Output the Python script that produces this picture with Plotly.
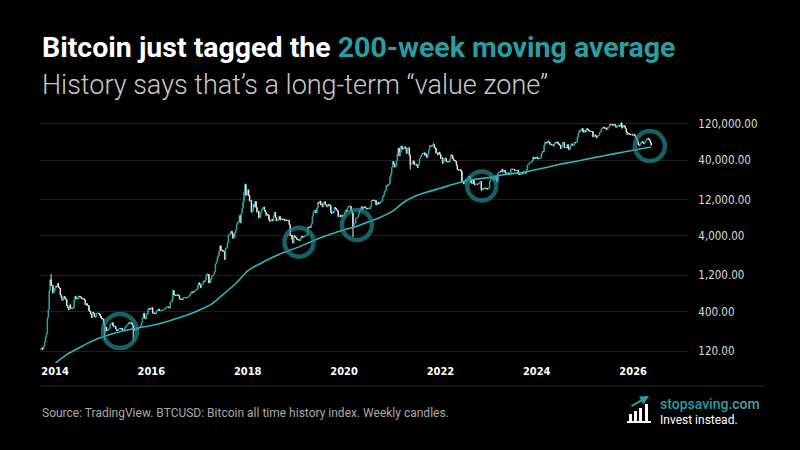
import pandas as pd
import plotly.graph_objects as go

# Weekly closes (USD), one list per calendar year
close_2013 = [127, 126, 127, 133, 127, 140, 157, 183, 206, 330, 430, 750, 1050, 900, 880, 700, 740, 810]
close_2014 = [870, 850, 940, 830, 810, 660, 620, 560, 620, 630, 590, 580, 480,
              450, 420, 490, 440, 440, 440, 450, 570, 630, 590, 600, 590, 640,
              630, 620, 590, 590, 590, 570, 490, 510, 480, 480, 410, 400, 370,
              330, 390, 380, 340, 340, 380, 380, 380, 370, 350, 330, 320, 320]
close_2015 = [270, 210, 250, 225, 225, 235, 240, 275, 275, 285, 260, 250, 255,
              235, 225, 225, 235, 240, 235, 240, 230, 225, 235, 245, 255, 265,
              270, 285, 280, 285, 280, 265, 230, 225, 230, 240, 230, 235, 245,
              245, 265, 285, 325, 380, 330, 320, 360, 380, 430, 440, 430, 430]
close_2016 = [450, 380, 385, 375, 375, 405, 420, 430, 410, 410, 415, 415, 420,
              420, 430, 450, 460, 460, 455, 445, 530, 540, 580, 760, 670, 660,
              650, 665, 655, 655, 590, 580, 580, 575, 610, 610, 610, 605, 610,
              615, 640, 655, 700, 730, 705, 740, 735, 755, 770, 790, 890, 960]
close_2017 = [900, 820, 920, 920, 1010, 1000, 1050, 1190, 1250, 1230, 960, 960, 1080,
              1190, 1200, 1250, 1350, 1700, 1800, 2050, 2200, 2500, 2950, 2550, 2600, 2500,
              2500, 1950, 2750, 2750, 3250, 4100, 4150, 4350, 4600, 4300, 3700, 3800, 4400,
              4800, 5700, 6000, 6150, 7400, 5950, 8000, 9300, 11300, 15000, 19100, 13900, 13800]
close_2018 = [16200, 13600, 11500, 11700, 8200, 8500, 10400, 9600, 11400, 9500, 8200, 8500, 6900,
              7000, 8100, 8900, 9300, 9600, 8700, 8200, 7400, 7700, 7500, 6500, 6200, 6400,
              6600, 6300, 7400, 8200, 7000, 6300, 6400, 6700, 7200, 6500, 6500, 6700, 6600,
              6600, 6300, 6500, 6400, 6400, 6350, 5600, 4000, 4100, 3600, 3200, 4000, 3900, 3800]
close_2019 = [3600, 3550, 3550, 3450, 3650, 3950, 3850, 3850, 3950, 4000, 4000, 4100,
              5200, 5100, 5300, 5200, 5800, 7200, 8100, 8700, 8700, 8000, 9300, 11000, 10800,
              11500, 10200, 10600, 9600, 11000, 11300, 10300, 10100, 9600,
              10400, 10300, 10000, 8200, 7900, 8300, 8200, 9500, 9200,
              8800, 8500, 7100, 7400, 7500, 7100, 7500, 7300, 7400]
close_2020 = [8200, 8700, 8400, 9400, 9900, 9900, 9700, 8600, 8000, 5400, 5800, 5900, 6800,
              6900, 7100, 7700, 8800, 8700, 9700, 8900, 9500, 9700, 9400, 9300, 9100, 9100,
              9250, 9200, 9700, 11800, 11700, 11900, 11500, 11700, 10300, 10300, 11100, 10700, 10700,
              11400, 11500, 13000, 13800, 15500, 16000, 18400, 18200, 19200, 19200, 24000, 26500, 32000]
close_2021 = [38200, 35800, 32300, 33100, 38900, 48700, 57500, 45200, 51000, 61200, 57500, 55800, 58200,
              60000, 56200, 49000, 57800, 58200, 46400, 34700, 35700, 35800, 39100, 35500, 34700, 35300,
              34200, 31800, 35400, 41500, 44600, 47000, 49000, 48800, 50000, 46000, 48300, 43200, 48200,
              54700, 61500, 61300, 61300, 63300, 64400, 58600, 57200, 49400, 50100, 46700, 50800, 47700]
close_2022 = [41800, 43100, 36300, 38500, 42400, 42200, 38300, 37700, 38400, 37800, 41300, 46800, 46400,
              42200, 39700, 39400, 38500, 34300, 30100, 29400, 29500, 29900, 28400, 20500, 21000, 19300,
              20800, 22500, 22600, 23300, 24400, 24100, 21400, 20000, 19800, 21800, 19400, 18800, 19300,
              19400, 19200, 19600, 20600, 20900, 16300, 16700, 16500, 17100, 17100, 16800, 16800, 16550]
close_2023 = [17100, 20900, 22700, 23000, 23300, 21800, 24600, 23500, 22400, 20500, 26900, 27500, 28500,
              28000, 30300, 27800, 29300, 28900, 26900, 26800, 27100, 27100, 25800, 26300, 30500, 30500,
              30200, 30300, 29200, 29300, 29100, 29400, 26100, 26000, 25900, 26200, 26600, 26300, 27900,
              27900, 26900, 30000, 34500, 35000, 37100, 37400, 37500, 39500, 43800, 41400, 43000, 42300]
close_2024 = [43900, 41700, 41600, 42000, 42600, 48300, 52100, 51700, 63000, 68900, 68400, 67200, 71300,
              69400, 65000, 64900, 63400, 64000, 61400, 66300, 69000, 67600, 69600, 66600, 64200, 62700,
              56700, 60800, 68200, 68100, 58100, 58700, 58400, 64200, 57300, 54800, 60000, 63600, 65600, 62800,
              62900, 69000, 68000, 68800, 80400, 90500, 98000, 97200, 101200, 104500, 95200, 93700, 98300]
close_2025 = [94500, 104500, 102000, 97700, 96500, 96200, 96300, 94300, 80700, 84000, 86100, 82600, 78300,
              83800, 85000, 93800, 94300, 104000, 106500, 109000, 105700, 105700, 105600, 100900, 108400, 109200,
              119000, 117300, 119400, 114200, 119300, 117400, 113500, 108300, 111200, 115300, 115700, 112200, 123500,
              115000, 108600, 114500, 110500, 104000, 94000, 87000, 90400, 89000, 87500, 86000, 87500, 85500]
close_2026 = [88000, 84000, 80000, 76000, 70000, 64000, 62000, 66000, 68000, 70000, 68000, 66000, 69000,
              72000, 75000, 78000, 76000, 73000, 68000, 63000]

year_starts = ['2013-09-02', '2014-01-01', '2015-01-01', '2016-01-01', '2017-01-01', '2018-01-01', '2019-01-01',
               '2020-01-01', '2021-01-01', '2022-01-01', '2023-01-01', '2024-01-01', '2025-01-01', '2026-01-01']
year_closes = [close_2013, close_2014, close_2015, close_2016, close_2017, close_2018, close_2019,
               close_2020, close_2021, close_2022, close_2023, close_2024, close_2025, close_2026]
first_open = 120

# Weeks with long wicks (week start, low, high)
wick_weeks = ['2013-12-02', '2015-01-12', '2015-08-17', '2017-12-11', '2020-03-09',
              '2021-05-17', '2021-11-08', '2022-11-07', '2025-10-06']
wick_lows = [870, 170, 165, 13000, 3850, 30000, 63000, 15500, 104000]
wick_highs = [1240, 290, 260, 19700, 8000, 45000, 69000, 21000, 126000]

# 200-week moving average
ma_dates = ['2013-12-01', '2014-01-01', '2014-04-01', '2014-07-01', '2014-10-01', '2015-01-01', '2015-04-01',
            '2015-07-01', '2015-10-01', '2016-01-01', '2016-04-01', '2016-07-01', '2016-10-01', '2017-01-01',
            '2017-04-01', '2017-07-01', '2017-10-01', '2018-01-01', '2018-04-01', '2018-07-01', '2018-10-01',
            '2019-01-01', '2019-04-01', '2019-07-01', '2019-10-01', '2020-01-01', '2020-04-01', '2020-07-01',
            '2020-10-01', '2021-01-01', '2021-04-01', '2021-07-01', '2021-10-01', '2022-01-01', '2022-04-01',
            '2022-07-01', '2022-10-01', '2023-01-01', '2023-04-01', '2023-07-01', '2023-10-01', '2024-01-01',
            '2024-04-01', '2024-07-01', '2024-10-01', '2025-01-01', '2025-04-01', '2025-07-01', '2025-10-01',
            '2026-01-01', '2026-05-18']
ma_values = [70, 82, 108, 132, 160, 185, 208,
             228, 245, 262, 285, 320, 360, 420,
             500, 680, 930, 1380, 1700, 2050, 2400,
             2750, 3200, 3750, 4250, 4800, 5300, 6100,
             7000, 8400, 11200, 13500, 15300, 17000, 19000,
             21000, 22500, 23500, 25200, 26500, 27800, 30000,
             32500, 35500, 37800, 40800, 43800, 47000, 50500,
             54000, 59500]

# Where the price tagged the average (circled)
tag_dates = ['2015-05-08', '2019-01-25', '2020-04-08', '2022-11-10', '2026-05-08']
tag_prices = [221, 3300, 5550, 18200, 61300]
tag_sizes = [34, 29, 30, 29, 30]

year_ticks = ['2014', '2016', '2018', '2020', '2022', '2024', '2026']
price_ticks = [120, 400, 1200, 4000, 12000, 40000, 120000]
price_labels = ['120.00', '400.00', '1,200.00', '4,000.00', '12,000.00', '40,000.00', '120,000.00']

TEAL = '#27a8ad'
MA_TEAL = '#33b4bc'
RING = '#208a8d'
TITLE_TEAL = '#2a9da0'

frames = []
for start, vals in zip(year_starts, year_closes):
    frames.append(pd.DataFrame({'date': pd.date_range(start, periods=len(vals), freq='W-MON'), 'close': vals}))
df = pd.concat(frames, ignore_index=True)
df['open'] = df['close'].shift(1).fillna(first_open)
df['high'] = df[['open', 'close']].max(axis=1)
df['low'] = df[['open', 'close']].min(axis=1)
for d, lo, hi in zip(wick_weeks, wick_lows, wick_highs):
    m = df['date'] == pd.Timestamp(d)
    df.loc[m, 'low'] = df.loc[m, 'low'].clip(upper=lo)
    df.loc[m, 'high'] = df.loc[m, 'high'].clip(lower=hi)

fig = go.Figure()
fig.add_trace(go.Candlestick(x=df['date'], open=df['open'], high=df['high'], low=df['low'], close=df['close'],
                             increasing=dict(line=dict(color=TEAL, width=1), fillcolor=TEAL),
                             decreasing=dict(line=dict(color='#e8e8e8', width=1), fillcolor='#e8e8e8'),
                             whiskerwidth=0))
fig.add_trace(go.Scatter(x=ma_dates, y=ma_values, mode='lines',
                         line=dict(color=MA_TEAL, width=1.6, shape='spline', smoothing=0.8)))
fig.add_trace(go.Scatter(x=tag_dates, y=tag_prices, mode='markers',
                         marker=dict(symbol='circle-open', size=tag_sizes, color=RING,
                                     line=dict(width=4.5, color=RING))))

# page layout in pixels -> paper coords
L, R, T, B = 40, 112, 110, 87
W, H = 800, 450
pw, ph = W - L - R, H - T - B


def px(x):
    return (x - L) / pw


def py(y):
    return (H - B - y) / ph


shapes = [
    dict(type='line', xref='paper', yref='paper', x0=px(40), x1=px(765), y0=py(386), y1=py(386),
         line=dict(color='#262626', width=1)),
    dict(type='line', xref='paper', yref='paper', x0=px(627), x1=px(651), y0=py(422), y1=py(422),
         line=dict(color='white', width=2)),
]
for x0, top in [(629, 414), (634, 411), (639, 408), (645, 404)]:
    shapes.append(dict(type='rect', xref='paper', yref='paper', x0=px(x0), x1=px(x0 + 3), y0=py(421), y1=py(top),
                       fillcolor='white', line=dict(width=0)))

annotations = [
    dict(x=0, y=py(47), xref='paper', yref='paper', xanchor='left', yanchor='middle', showarrow=False,
         text="<b>Bitcoin just tagged the <span style='color:%s'>200-week moving average</span></b>" % TITLE_TEAL,
         font=dict(family='Roboto', size=28.5, color='white')),
    dict(x=0, y=py(85), xref='paper', yref='paper', xanchor='left', yanchor='middle', showarrow=False,
         text='History says that\u2019s a long-term \u201cvalue zone\u201d',
         font=dict(family='Roboto', size=27, color='#c9c9c9', weight=300)),
    dict(x=0, y=py(413), xref='paper', yref='paper', xanchor='left', yanchor='middle', showarrow=False,
         text='Source: TradingView. BTCUSD: Bitcoin all time history index. Weekly candles.',
         font=dict(family='Roboto', size=12, color='#a9a9a9')),
    dict(x=px(658), y=py(404), xref='paper', yref='paper', xanchor='left', yanchor='middle', showarrow=False,
         text="<span style='color:%s'>stopsaving</span><span style='color:#4f9ea0'>.com</span>" % TITLE_TEAL,
         font=dict(family='Roboto', size=14, weight=500)),
    dict(x=px(658), y=py(420), xref='paper', yref='paper', xanchor='left', yanchor='middle', showarrow=False,
         text='Invest instead.', font=dict(family='Roboto', size=12, color='white')),
    dict(x=px(649), y=py(396), xref='paper', yref='paper', showarrow=True, text='',
         ax=-19, ay=11, arrowhead=2, arrowsize=0.9, arrowwidth=2, arrowcolor=TITLE_TEAL),
]

fig.update_layout(
    width=W, height=H, margin=dict(l=L, r=R, t=T, b=B),
    paper_bgcolor='black', plot_bgcolor='black', showlegend=False,
    xaxis=dict(type='date', range=['2013-09-09', '2027-02-21'], rangeslider=dict(visible=False),
               tickvals=[y + '-01-01' for y in year_ticks], ticktext=year_ticks, showgrid=False,
               zeroline=False, showline=False, ticks='',
               tickfont=dict(family='DejaVu Sans Condensed, DejaVu Sans', size=11, color='white', weight='bold')),
    yaxis=dict(type='log', side='right', range=[1.922, 5.264], tickvals=price_ticks, ticktext=price_labels,
               showgrid=True, gridcolor='#1e1e1e', gridwidth=1, zeroline=False, showline=False,
               ticks='outside', ticklen=7, tickcolor='rgba(0,0,0,0)',
               tickfont=dict(family='DejaVu Sans Condensed, DejaVu Sans', size=11.5, color='#dddddd')),
    shapes=shapes, annotations=annotations,
)

# drop the default page margin so the figure sits at the window's top-left corner
fig.write_html('out.html', config={'displayModeBar': False},
               post_script="document.body.style.margin='0';document.body.style.background='black';")
